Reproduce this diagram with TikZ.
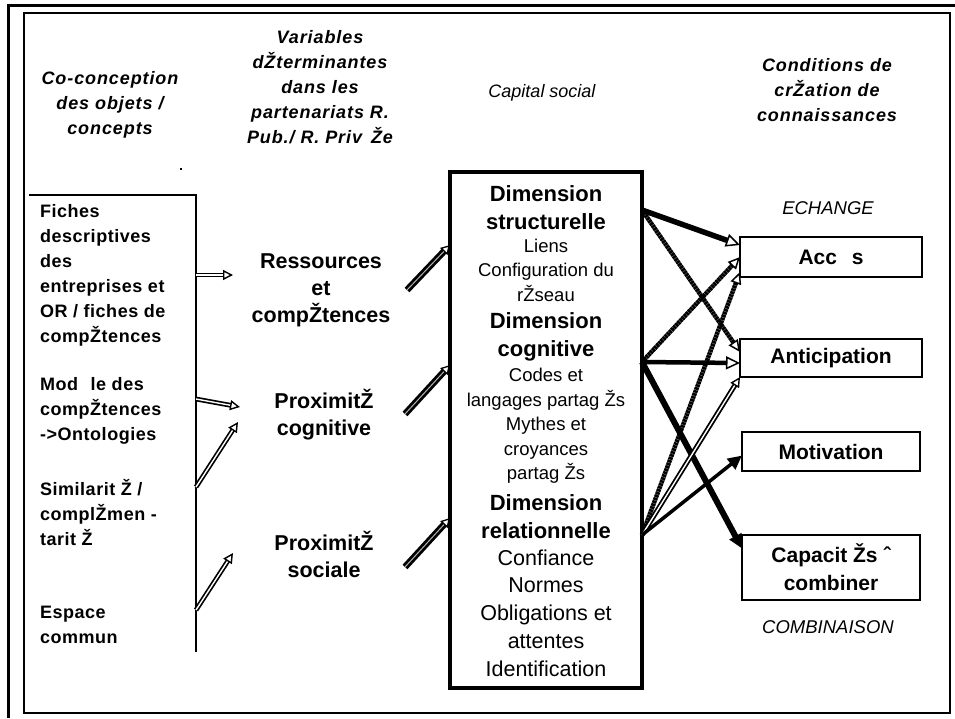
\documentclass[tikz,border=0pt]{standalone}
\usepackage{fontspec}
\setmainfont{Liberation Sans}
\newfontfamily\spacedfont[LetterSpace=5]{Liberation Sans}
\newfontfamily\leftfont[LetterSpace=3]{Liberation Sans}
\usetikzlibrary{arrows.meta}
\begin{document}
\begin{tikzpicture}[x=1pt,y=-1pt,
  every node/.style={inner sep=0pt, outer sep=0pt},
  hdr/.style={font=\spacedfont\bfseries\itshape\fontsize{18}{25}\selectfont, align=center},
  lefttxt/.style={font=\leftfont\bfseries\fontsize{18}{25}\selectfont, align=left, anchor=west},
  midtxt/.style={font=\bfseries\fontsize{21.5}{27}\selectfont, align=center},
  dimtitle/.style={font=\bfseries\fontsize{22}{28}\selectfont, align=center},
  dimsmall/.style={font=\fontsize{18.5}{24.5}\selectfont, align=center},
  dimlarge/.style={font=\fontsize{21.5}{27.8}\selectfont, align=center},
  condbox/.style={draw, line width=1.3pt, minimum width=182pt, font=\bfseries\fontsize{21}{28}\selectfont, align=center},
  phase/.style={font=\itshape\fontsize{18.5}{22}\selectfont},
  hollow/.style={line width=1.7pt, double=white, double distance=1.4pt, -{Triangle[open, length=10pt, width=10pt, line width=1.4pt]}},
  dbl/.style={line width=2.8pt, double=gray!60, double distance=1pt, -{Triangle[open, length=9pt, width=10pt, line width=1.3pt]}},
  openhead/.style={-{Triangle[open, length=14pt, width=13pt, line width=1.5pt]}},
  fullhead/.style={-{Triangle[length=14pt, width=13pt]}},
  texture/.style={line width=4.5pt, dash pattern=on 2.6pt off 0.5pt, -{Triangle[open, length=12pt, width=11pt, line width=1.5pt]}}
]
\useasboundingbox (0,0) rectangle (955,718);
% frames
\draw[line width=3pt] (8,718) -- (8,5) -- (955,5);
\draw[line width=1.5pt] (24,13) rectangle (950,713);
\fill (180,168) rectangle (182,170);

% headers
\node[hdr] (hco) at (110,105) {Co-conception\\des objets /\\concepts};
\node[hdr] (hvar) at (320,87) {Variables\\dŽterminantes\\dans les\\partenariats R.\\Pub./ R. Priv\hspace{0.5em}Že};
\node[font=\itshape\fontsize{18}{20}\selectfont] (hcap) at (542,93) {Capital social};
\node[hdr] (hcond) at (827,90) {Conditions de\\crŽation de\\connaissances};

% left panel
\draw[line width=2pt] (29,195) -- (196,195) -- (196,652);
\node[lefttxt] (fiches) at (40,275) {Fiches\\descriptives\\des\\entreprises et\\OR / fiches de\\compŽtences};
\node[lefttxt] (modele) at (40,411) {Mod\hspace{0.7em}le des\\compŽtences\\->Ontologies};
\node[lefttxt] (simil) at (40,513) {Similarit Ž /\\complŽmen -\\tarit Ž};
\node[lefttxt] (espace) at (40,625) {Espace\\commun};

% middle variables
\node[midtxt] (ress) at (321,290) {Ressources\\et\\compŽtences};
\node[midtxt] (proxc) at (324,415) {ProximitŽ\\cognitive};
\node[midtxt] (proxs) at (324,554) {ProximitŽ\\sociale};

% capital social box
\node[draw, line width=3.5pt, minimum width=192pt, minimum height=516pt] (capital) at (546,430) {};
\node[dimtitle] (d1) at (546,207.5) {Dimension\\structurelle};
\node[dimsmall] (d1i) at (546,270) {Liens\\Configuration du\\rŽseau};
\node[dimtitle] (d2) at (546,336.5) {Dimension\\cognitive};
\node[dimsmall] (d2i) at (546,426) {Codes et\\langages partag Žs\\Mythes et\\croyances\\partag Žs};
\node[dimtitle] (d3) at (546,516.5) {Dimension\\relationnelle};
\node[dimlarge] (d3i) at (546,613) {Confiance\\Normes\\Obligations et\\attentes\\Identification};

% conditions
\node[phase] (echange) at (828,208) {ECHANGE};
\node[condbox, minimum height=40pt] (acces) at (831,257) {Acc\hspace{0.7em}s};
\node[condbox, minimum height=38pt] (antic) at (831,358) {Anticipation};
\node[condbox, minimum width=178pt, minimum height=39pt] (motiv) at (831,451.5) {Motivation};
\node[condbox, minimum width=178pt, minimum height=65pt] (capac) at (831,567.5) {Capacit Žs ˆ\\combiner};
\node[phase] (combin) at (828,627) {COMBINAISON};

% left arrows
\coordinate (p1) at (196,275);
\coordinate (p2) at (196,399);
\coordinate (p3) at (196,487);
\coordinate (p4) at (196,610);
\coordinate (t1) at (233,275);
\coordinate (t2) at (240,407);
\coordinate (t3) at (238,422);
\coordinate (t4) at (233,553);
\draw[hollow] (p1) -- (t1);
\draw[hollow] (p2) -- (t2);
\draw[hollow] (p3) -- (t3);
\draw[hollow] (p4) -- (t4);

% middle to capital
\coordinate (m1) at (407,290);
\coordinate (m2) at (405,414);
\coordinate (m3) at (405,567);
\draw[dbl] (m1) -- ([yshift=185pt]capital.west);
\draw[dbl] (m2) -- ([yshift=65pt]capital.west);
\draw[dbl] (m3) -- ([yshift=-88pt]capital.west);

% capital to conditions
\coordinate (s1) at ([yshift=220pt]capital.east);
\coordinate (s2) at ([yshift=68pt]capital.east);
\coordinate (s3) at ([yshift=-105pt]capital.east);
\draw[texture] (s1) -- ([yshift=6pt]antic.west);
\draw[texture] (s2) -- (acces.west);
\draw[texture] (s3) -- ([yshift=-15pt]acces.west);
\draw[openhead, line width=5.5pt] (s1) -- ([yshift=12pt]acces.west);
\draw[openhead, line width=4.5pt] (s2) -- ([yshift=-5pt]antic.west);
\draw[fullhead, line width=6pt] (s2) -- ([yshift=19pt]capac.west);
\draw[hollow, line width=1.8pt] (s3) -- (antic.south west);
\draw[fullhead, line width=3.5pt] (s3) -- ([yshift=-4pt]motiv.west);
\end{tikzpicture}
\end{document}
